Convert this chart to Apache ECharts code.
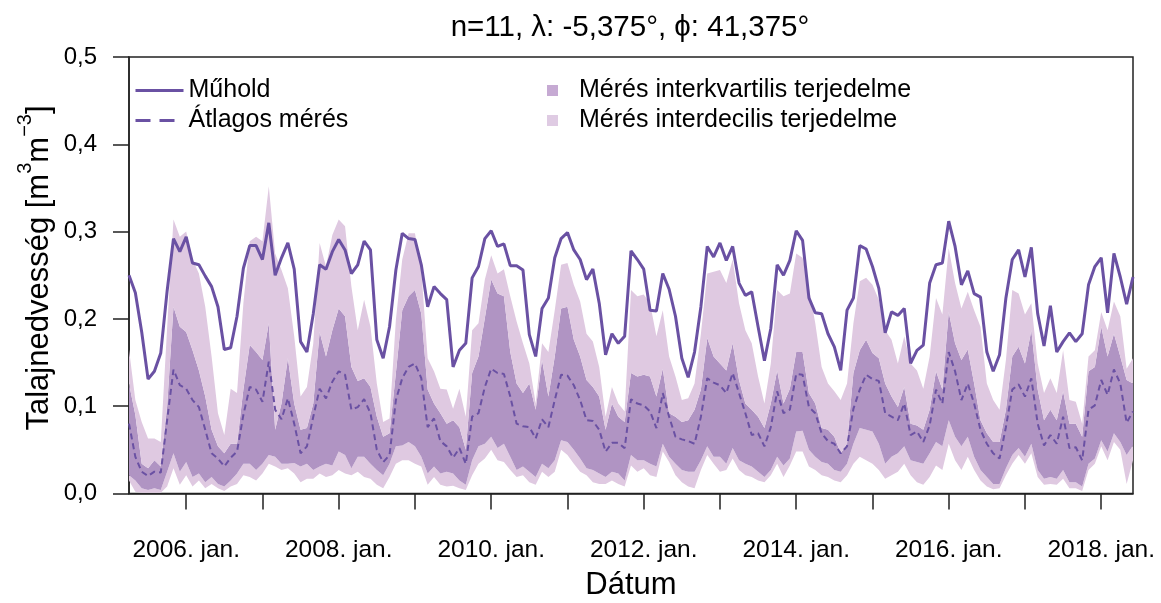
<!DOCTYPE html>
<html>
<head>
<meta charset="utf-8">
<script src="https://cdn.jsdelivr.net/npm/echarts@6/dist/echarts.min.js"></script>
<style>
html,body{margin:0;padding:0;background:#fff;}
#chart{width:1161px;height:603px;}
</style>
</head>
<body>
<div id="chart"></div>
<script>
// monthly series starting 2005-04
const startYear = 2005, startMonth = 4;
const titleText = 'n=11, λ: -5,375°, ϕ: 41,375°';
const yTicks = [0, 0.1, 0.2, 0.3, 0.4, 0.5];
const labelYears = [2006, 2008, 2010, 2012, 2014, 2016, 2018];

const sat = [
0.250,0.230,0.185,0.131,0.140,0.161,0.232,0.292,0.277,0.294,0.264,0.262,0.249,0.237,0.214,0.165,0.167,0.203,0.258,0.284,0.284,0.268,0.310,0.250,0.270,0.287,0.257,
0.174,0.162,0.206,0.262,0.257,0.277,0.291,0.279,0.252,0.262,0.289,0.279,0.176,0.155,0.191,0.256,0.298,0.292,0.291,0.262,0.214,0.237,0.229,0.222,0.145,0.164,0.172,
0.247,0.260,0.292,0.301,0.283,0.286,0.261,0.261,0.256,0.182,0.157,0.212,0.224,0.270,0.292,0.299,0.279,0.268,0.245,0.257,0.218,0.159,0.183,0.172,0.180,0.278,0.268,
0.257,0.210,0.209,0.252,0.234,0.203,0.155,0.133,0.162,0.214,0.283,0.271,0.287,0.267,0.283,0.241,0.227,0.231,0.191,0.152,0.189,0.262,0.250,0.267,0.301,0.290,
0.224,0.207,0.206,0.183,0.168,0.141,0.210,0.224,0.284,0.280,0.260,0.235,0.184,0.208,0.204,0.212,0.149,0.164,0.170,0.241,0.262,0.264,0.312,0.283,0.239,0.255,0.229,
0.225,0.162,0.140,0.159,0.224,0.268,0.279,0.248,0.282,0.206,0.169,0.215,0.162,0.174,0.184,0.174,0.183,0.239,0.260,0.270,0.207,0.275,0.248,0.217,0.248
];
const meanMeas = [
0.080,0.042,0.025,0.020,0.025,0.024,0.084,0.142,0.124,0.120,0.107,0.099,0.073,0.046,0.040,0.031,0.041,0.048,0.090,0.122,0.119,0.105,0.151,0.096,0.085,0.109,0.080,
0.046,0.054,0.088,0.120,0.109,0.128,0.140,0.136,0.096,0.099,0.108,0.092,0.050,0.036,0.044,0.107,0.132,0.145,0.149,0.132,0.076,0.086,0.060,0.054,0.041,0.052,0.034,
0.088,0.092,0.122,0.143,0.138,0.137,0.111,0.080,0.077,0.076,0.063,0.085,0.076,0.107,0.136,0.135,0.124,0.107,0.084,0.083,0.073,0.048,0.058,0.058,0.052,0.108,0.103,
0.101,0.094,0.075,0.115,0.088,0.065,0.062,0.060,0.057,0.088,0.132,0.127,0.124,0.115,0.138,0.115,0.092,0.067,0.069,0.054,0.076,0.117,0.092,0.096,0.137,0.136,
0.099,0.092,0.069,0.060,0.057,0.046,0.054,0.097,0.119,0.136,0.131,0.129,0.092,0.088,0.084,0.103,0.067,0.071,0.059,0.078,0.119,0.103,0.162,0.140,0.107,0.126,0.103,
0.073,0.057,0.046,0.040,0.076,0.119,0.125,0.111,0.132,0.080,0.055,0.067,0.057,0.088,0.052,0.053,0.038,0.096,0.101,0.130,0.113,0.142,0.126,0.081,0.094
];
const p90 = [
0.165,0.107,0.082,0.063,0.063,0.059,0.190,0.314,0.294,0.300,0.268,0.252,0.214,0.157,0.092,0.067,0.120,0.115,0.218,0.289,0.294,0.289,0.352,0.275,0.256,0.235,0.180,
0.111,0.122,0.172,0.287,0.260,0.296,0.314,0.306,0.237,0.187,0.222,0.191,0.126,0.082,0.086,0.199,0.268,0.298,0.298,0.256,0.155,0.140,0.120,0.119,0.097,0.120,0.088,
0.187,0.195,0.245,0.273,0.252,0.257,0.226,0.197,0.172,0.149,0.103,0.172,0.162,0.210,0.262,0.264,0.239,0.220,0.183,0.174,0.145,0.088,0.122,0.103,0.094,0.233,0.226,
0.228,0.218,0.180,0.210,0.157,0.134,0.107,0.109,0.126,0.183,0.252,0.254,0.256,0.241,0.268,0.218,0.187,0.172,0.134,0.103,0.149,0.233,0.226,0.229,0.275,0.270,
0.235,0.195,0.145,0.126,0.117,0.107,0.126,0.195,0.243,0.247,0.239,0.222,0.187,0.176,0.149,0.180,0.149,0.141,0.120,0.157,0.224,0.205,0.281,0.241,0.212,0.231,0.210,
0.191,0.126,0.107,0.096,0.153,0.233,0.229,0.205,0.218,0.149,0.115,0.132,0.115,0.164,0.107,0.105,0.080,0.157,0.164,0.208,0.187,0.220,0.203,0.143,0.155
];
const p75 = [
0.126,0.090,0.034,0.029,0.038,0.031,0.100,0.214,0.191,0.185,0.164,0.141,0.111,0.073,0.054,0.046,0.057,0.057,0.119,0.170,0.162,0.153,0.195,0.073,0.103,0.155,0.103,
0.073,0.075,0.103,0.185,0.157,0.187,0.212,0.203,0.145,0.129,0.132,0.122,0.088,0.065,0.069,0.138,0.210,0.226,0.233,0.206,0.119,0.103,0.092,0.080,0.084,0.076,0.050,
0.138,0.157,0.201,0.245,0.229,0.226,0.162,0.126,0.115,0.126,0.096,0.153,0.111,0.157,0.212,0.214,0.176,0.157,0.130,0.122,0.111,0.073,0.103,0.088,0.082,0.138,0.134,
0.136,0.134,0.111,0.143,0.092,0.088,0.082,0.084,0.096,0.119,0.178,0.157,0.149,0.141,0.172,0.130,0.103,0.096,0.088,0.075,0.103,0.141,0.103,0.120,0.162,0.162,
0.115,0.103,0.075,0.073,0.065,0.046,0.057,0.138,0.164,0.176,0.161,0.155,0.126,0.111,0.099,0.122,0.080,0.078,0.073,0.096,0.140,0.119,0.208,0.172,0.153,0.165,0.126,
0.084,0.069,0.059,0.059,0.096,0.157,0.168,0.149,0.187,0.119,0.084,0.096,0.084,0.117,0.080,0.080,0.065,0.140,0.145,0.191,0.157,0.183,0.157,0.130,0.126
];
const p25 = [
0.021,0.015,0.006,0.004,0.006,0.004,0.025,0.046,0.025,0.036,0.019,0.023,0.013,0.019,0.011,0.008,0.015,0.023,0.034,0.034,0.027,0.034,0.044,0.042,0.034,0.034,0.035,
0.031,0.034,0.027,0.031,0.034,0.032,0.048,0.044,0.029,0.042,0.042,0.034,0.027,0.021,0.034,0.054,0.055,0.059,0.054,0.042,0.023,0.031,0.023,0.025,0.023,0.015,0.010,
0.038,0.054,0.057,0.065,0.052,0.057,0.042,0.027,0.031,0.025,0.019,0.034,0.029,0.038,0.061,0.059,0.050,0.040,0.029,0.027,0.023,0.019,0.025,0.023,0.015,0.044,0.038,
0.038,0.034,0.031,0.057,0.042,0.034,0.027,0.025,0.025,0.038,0.054,0.042,0.042,0.034,0.052,0.038,0.034,0.031,0.025,0.019,0.027,0.042,0.032,0.040,0.071,0.072,
0.050,0.042,0.036,0.034,0.027,0.025,0.034,0.057,0.075,0.073,0.071,0.057,0.034,0.042,0.046,0.054,0.038,0.036,0.034,0.046,0.059,0.054,0.084,0.065,0.054,0.065,0.042,
0.027,0.019,0.011,0.011,0.029,0.044,0.052,0.042,0.057,0.027,0.017,0.019,0.017,0.027,0.013,0.013,0.008,0.034,0.040,0.061,0.048,0.069,0.059,0.044,0.055
];
const p10 = [
0.015,0.002,0.001,0.001,0.001,0.001,0.008,0.029,0.010,0.021,0.008,0.015,0.006,0.011,0.006,0.003,0.008,0.011,0.021,0.019,0.015,0.023,0.034,0.031,0.027,0.029,0.023,
0.013,0.017,0.017,0.023,0.019,0.021,0.027,0.023,0.021,0.025,0.019,0.017,0.010,0.006,0.019,0.034,0.038,0.038,0.034,0.031,0.010,0.019,0.010,0.008,0.009,0.006,0.004,
0.021,0.034,0.040,0.050,0.038,0.036,0.027,0.019,0.021,0.013,0.010,0.025,0.019,0.025,0.050,0.044,0.034,0.025,0.021,0.013,0.011,0.011,0.015,0.011,0.008,0.032,0.025,
0.029,0.021,0.019,0.048,0.036,0.021,0.013,0.008,0.006,0.027,0.044,0.034,0.025,0.027,0.040,0.027,0.021,0.019,0.015,0.013,0.021,0.034,0.019,0.032,0.048,0.048,
0.031,0.027,0.021,0.019,0.015,0.013,0.021,0.034,0.042,0.038,0.034,0.027,0.017,0.021,0.025,0.034,0.021,0.013,0.010,0.019,0.032,0.027,0.057,0.038,0.027,0.042,0.027,
0.015,0.008,0.005,0.006,0.021,0.034,0.044,0.034,0.046,0.019,0.010,0.011,0.010,0.017,0.006,0.006,0.003,0.027,0.034,0.054,0.038,0.059,0.050,0.011,0.038
];

// month categories
const months = [];
for (let i = 0; i < sat.length; i++) {
  const t = (startMonth - 1) + i;
  const y = startYear + Math.floor(t / 12);
  const m = (t % 12) + 1;
  months.push(y + '-' + (m < 10 ? '0' + m : m));
}

// stacked band pieces built from the percentile arrays
const lo = [], q1 = [], iqr = [], q4 = [];
for (let i = 0; i < sat.length; i++) {
  const a = p10[i];
  const b = Math.max(p25[i], a);
  const c = Math.max(p75[i], b);
  const d = Math.max(p90[i], c);
  lo.push(a); q1.push(+(b - a).toFixed(4)); iqr.push(+(c - b).toFixed(4)); q4.push(+(d - c).toFixed(4));
}

const FONT = "'Liberation Sans', Arial, Helvetica, sans-serif";
const LINE = '#6a51a3';
const DARK = '#b094c3';
const LIGHT = '#dfc9e1';
const N_IQR = 'Mérés interkvartilis terjedelme';
const N_IDR = 'Mérés interdecilis terjedelme';

const bandBase = {
  type: 'line', stack: 'band', symbol: 'none', showSymbol: false, silent: true,
  lineStyle: { width: 0, opacity: 0 }, emphasis: { disabled: true }
};

const chart = echarts.init(document.getElementById('chart'), null, { renderer: 'canvas' });
chart.setOption({
  animation: false,
  backgroundColor: '#fff',
  textStyle: { fontFamily: FONT },
  title: {
    text: titleText, left: 625, top: 8, textAlign: 'center',
    textStyle: { fontSize: 29.5, fontWeight: 'normal', color: '#000', fontFamily: FONT }
  },
  legend: [
    {
      orient: 'vertical', left: 134, top: 78, padding: 0, itemWidth: 48, itemHeight: 14, itemGap: 5,
      textStyle: { fontSize: 25, color: '#000', fontFamily: FONT, lineHeight: 25 },
      data: [
        { name: 'Műhold', itemStyle: { opacity: 0 }, lineStyle: { width: 3, color: LINE } },
        { name: 'Átlagos mérés', itemStyle: { opacity: 0 }, lineStyle: { width: 3, color: LINE, type: [15, 9] } }
      ],
      selectedMode: false
    },
    {
      orient: 'vertical', left: 547, top: 78, padding: 0, itemWidth: 11, itemHeight: 11, itemGap: 5,
      icon: 'rect',
      textStyle: { fontSize: 25, color: '#000', fontFamily: FONT, lineHeight: 25, padding: [0, 0, 0, 16] },
      data: [
        { name: N_IQR, itemStyle: { color: '#c6aad3' } },
        { name: N_IDR, itemStyle: { color: '#dfcbe3' } }
      ],
      selectedMode: false
    }
  ],
  grid: {
    left: 129, right: 28, top: 57, bottom: 109.5,
    outerBoundsMode: 'none', containLabel: false,
    show: true, borderColor: '#222', borderWidth: 1.5, backgroundColor: 'transparent'
  },
  xAxis: {
    type: 'category', data: months, boundaryGap: false,
    name: 'Dátum', nameLocation: 'middle', nameGap: 76,
    nameTextStyle: { fontSize: 31, color: '#000', fontFamily: FONT },
    axisLine: { show: true, lineStyle: { color: '#222', width: 1.5 } },
    axisTick: {
      show: true, length: 16, inside: false,
      interval: (idx, val) => val.endsWith('-01'),
      lineStyle: { color: '#222', width: 1.5 }
    },
    axisLabel: {
      show: true, margin: 44, fontSize: 24.5, color: '#000', fontFamily: FONT,
      interval: (idx, val) => val.endsWith('-01') && labelYears.indexOf(+val.slice(0, 4)) >= 0,
      formatter: (val) => val.slice(0, 4) + '. jan.'
    },
    splitLine: { show: false }
  },
  yAxis: {
    type: 'value', min: yTicks[0], max: yTicks[yTicks.length - 1], interval: 0.1,
    axisLine: { show: true, lineStyle: { color: '#222', width: 1.5 } },
    axisTick: { show: true, length: 16, inside: false, lineStyle: { color: '#222', width: 1.5 } },
    axisLabel: {
      margin: 32, fontSize: 24, color: '#000', fontFamily: FONT,
      showMinLabel: true, showMaxLabel: true,
      formatter: (v) => v.toFixed(1).replace('.', ',')
    },
    splitLine: { show: false }
  },
  graphic: [
    {
      type: 'text', x: 35, y: 268, rotation: Math.PI / 2,
      style: {
        text: '{a|Talajnedvesség [m}{s|3}{a|m}{s|−3}{a|]}',
        align: 'center', verticalAlign: 'middle',
        textAlign: 'center', textVerticalAlign: 'middle',
        fill: '#000',
        rich: {
          a: { fontSize: 31, fontFamily: FONT, lineHeight: 40, verticalAlign: 'bottom', fill: '#000', color: '#000' },
          s: { fontSize: 20, fontFamily: FONT, lineHeight: 20, verticalAlign: 'top', fill: '#000', color: '#000' }
        }
      }
    }
  ],
  series: [
    Object.assign({}, bandBase, { name: '_p10', data: lo, areaStyle: { opacity: 0 } }),
    Object.assign({}, bandBase, { name: N_IDR, data: q1, itemStyle: { color: '#dfcbe3' }, areaStyle: { color: LIGHT, opacity: 1 } }),
    Object.assign({}, bandBase, { name: N_IQR, data: iqr, itemStyle: { color: '#c6aad3' }, areaStyle: { color: DARK, opacity: 1 } }),
    Object.assign({}, bandBase, { name: N_IDR, data: q4, itemStyle: { color: '#dfcbe3' }, areaStyle: { color: LIGHT, opacity: 1 } }),
    {
      name: 'Átlagos mérés', type: 'line', data: meanMeas, symbol: 'none', showSymbol: false,
      itemStyle: { color: LINE },
      lineStyle: { color: LINE, width: 2, type: [6, 4] }, z: 5
    },
    {
      name: 'Műhold', type: 'line', data: sat, symbol: 'none', showSymbol: false,
      itemStyle: { color: LINE },
      lineStyle: { color: LINE, width: 3 }, z: 6
    }
  ]
});
</script>
</body>
</html>
